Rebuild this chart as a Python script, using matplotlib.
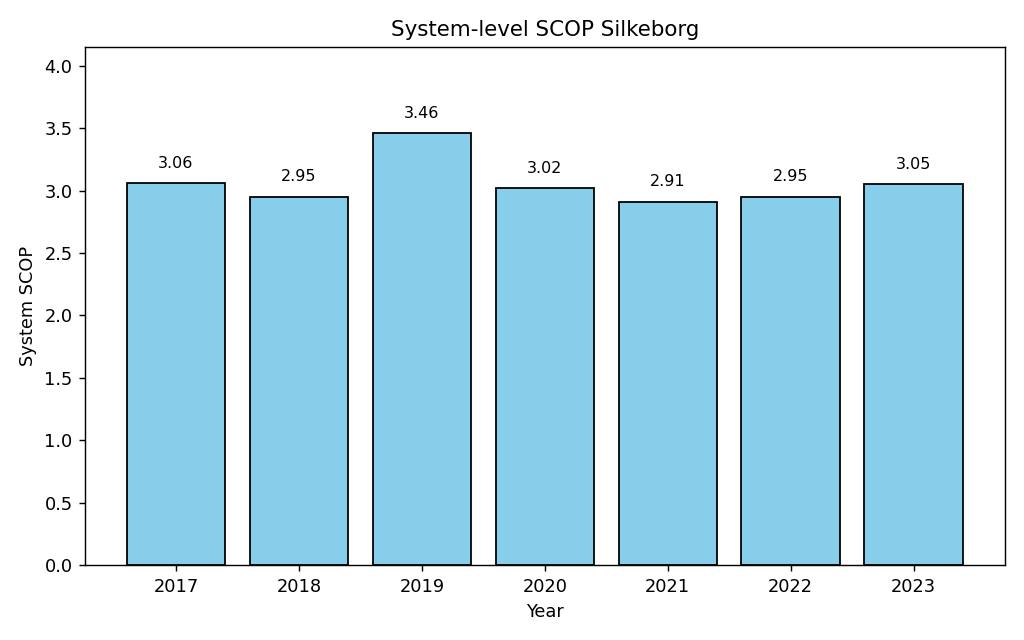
import matplotlib.pyplot as plt

YEARS = ["2017", "2018", "2019", "2020", "2021", "2022", "2023"]
SCOP = [3.06, 2.95, 3.46, 3.02, 2.91, 2.95, 3.05]


def main() -> None:
    fig, ax = plt.subplots(figsize=(8, 5), dpi=128)

    bars = ax.bar(YEARS, SCOP, color="skyblue", edgecolor="black", linewidth=1.0)
    for bar, v in zip(bars, SCOP):
        ax.text(bar.get_x() + bar.get_width() / 2.0, v + 0.1, f"{v:.2f}",
                ha="center", va="bottom", fontsize=9)

    ax.set_ylim(0, max(SCOP) * 1.2)
    ax.set_title("System-level SCOP Silkeborg")
    ax.set_xlabel("Year")
    ax.set_ylabel("System SCOP")

    fig.subplots_adjust(left=0.083, right=0.981, top=0.927, bottom=0.117)
    fig.savefig("out.png")
    plt.close(fig)


if __name__ == "__main__":
    main()
